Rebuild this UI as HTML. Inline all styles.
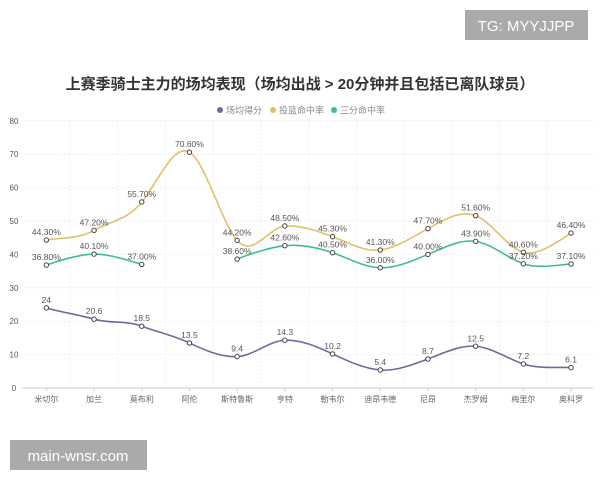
<!DOCTYPE html>
<html><head><meta charset="utf-8"><style>
body{margin:0;width:600px;height:480px;background:#fff;overflow:hidden;font-family:"Liberation Sans","Noto Sans CJK SC",sans-serif}
</style></head><body>
<svg id="s" width="600" height="480" xmlns="http://www.w3.org/2000/svg" font-family="Liberation Sans, Noto Sans CJK SC, sans-serif">
<rect x="465" y="10" width="123" height="30" fill="#aaa"/>
<text x="526" y="31" font-size="15" fill="#fff" text-anchor="middle">TG: MYYJJPP</text>
<rect x="10" y="440" width="137" height="30" fill="#aaa"/>
<text x="78" y="461" font-size="15" fill="#fff" text-anchor="middle">main-wnsr.com</text>
<text x="300" y="89" font-size="15" font-weight="bold" fill="#333" text-anchor="middle">上赛季骑士主力的场均表现（场均出战 &gt; 20分钟并且包括已离队球员）</text>
<circle cx="220" cy="110" r="3" fill="#6e6a9e"/><text x="226" y="113.5" font-size="9" fill="#888">场均得分</text>
<circle cx="273" cy="110" r="3" fill="#e0c06a"/><text x="279" y="113.5" font-size="9" fill="#888">投篮命中率</text>
<circle cx="334" cy="110" r="3" fill="#3dbf8a"/><text x="340" y="113.5" font-size="9" fill="#888">三分命中率</text>
<g id="g"></g>
</svg>
<script>
var g=document.getElementById('g'),h='';
function Y(v){return 388-v*3.34}
var X0=22.5,W=47.7;
for(var i=0;i<=8;i++){var y=Y(i*10);h+='<line x1="24" x2="593" y1="'+y+'" y2="'+y+'" stroke="#eee" stroke-dasharray="2,2"/>';h+='<text x="14" y="'+(y+3)+'" font-size="8" fill="#555" text-anchor="middle">'+i*10+'</text>';}
for(var i=1;i<12;i++){var x=X0+i*W;h+='<line x1="'+x+'" x2="'+x+'" y1="121" y2="388" stroke="#eee" stroke-dasharray="2,2"/>';}
h+='<line x1="22" x2="593" y1="388" y2="388" stroke="#ccc"/>';
var names=['米切尔','加兰','莫布利','阿伦','斯特鲁斯','亨特','勒韦尔','迪昂韦德','尼昂','杰罗姆','梅里尔','奥科罗'];
function cx(i){return X0+W/2+i*W}
names.forEach(function(n,i){h+='<line x1="'+cx(i)+'" x2="'+cx(i)+'" y1="388" y2="391" stroke="#ccc"/><text x="'+cx(i)+'" y="402" font-size="8" fill="#666" text-anchor="middle">'+n+'</text>'});
function path(pts){var d='M'+pts[0][0]+','+pts[0][1];for(var i=0;i<pts.length-1;i++){var p0=pts[i-1]||pts[i],p1=pts[i],p2=pts[i+1],p3=pts[i+2]||p2;var t=0.25;d+=' C'+(p1[0]+(p2[0]-p0[0])*t/1.5)+','+(p1[1]+(p2[1]-p0[1])*t)+' '+(p2[0]-(p3[0]-p1[0])*t/1.5)+','+(p2[1]-(p3[1]-p1[1])*t)+' '+p2[0]+','+p2[1];}return d}
function series(vals,col,fmt){var segs=[],cur=[];vals.forEach(function(v,i){if(v==null){if(cur.length)segs.push(cur);cur=[]}else cur.push([cx(i),Y(v),v])});if(cur.length)segs.push(cur);
segs.forEach(function(s){h+='<path d="'+path(s)+'" fill="none" stroke="'+col+'" stroke-width="1.6"/>'});
segs.forEach(function(s){s.forEach(function(p){h+='<circle cx="'+p[0]+'" cy="'+p[1]+'" r="2.2" fill="#fff" stroke="#444" stroke-width="1"/><text x="'+p[0]+'" y="'+(p[1]-5)+'" font-size="8.5" fill="#555" text-anchor="middle">'+fmt(p[2])+'</text>'})})}
var pc=function(v){return v.toFixed(2)+'%'};
series([44.3,47.2,55.7,70.6,44.2,48.5,45.3,41.3,47.7,51.6,40.6,46.4],'#e0c06a',pc);
series([36.8,40.1,37.0,null,38.6,42.6,40.5,36.0,40.0,43.9,37.2,37.1],'#3dbf8a',pc);
series([24,20.6,18.5,13.5,9.4,14.3,10.2,5.4,8.7,12.5,7.2,6.1],'#6e6a9e',function(v){return ''+v});
g.innerHTML=h;
</script>
</body></html>
